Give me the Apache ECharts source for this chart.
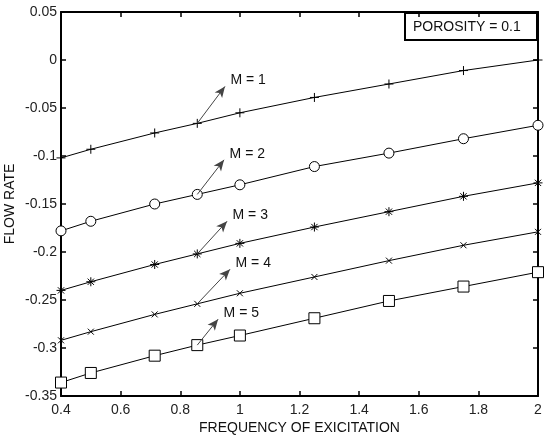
<!DOCTYPE html>
<html>
<head>
<meta charset="utf-8">
<script src="https://cdn.jsdelivr.net/npm/echarts@6/dist/echarts.min.js"></script>
<style>
  html, body { margin: 0; padding: 0; background: #fff; }
</style>
</head>
<body>
<div id="chart" style="width: 547px; height: 435px"></div>
<script>
// frequency of excitation (x)
const freq = [0.4, 0.5, 0.7143, 0.8571, 1, 1.25, 1.5, 1.75, 2];
// flow rate for each M
const m1 = [-0.102, -0.093, -0.076, -0.066, -0.055, -0.039, -0.025, -0.011, 0.0];
const m2 = [-0.178, -0.168, -0.150, -0.140, -0.130, -0.111, -0.097, -0.082, -0.068];
const m3 = [-0.240, -0.231, -0.213, -0.202, -0.191, -0.174, -0.158, -0.142, -0.128];
const m4 = [-0.292, -0.283, -0.265, -0.254, -0.243, -0.226, -0.209, -0.193, -0.179];
const m5 = [-0.336, -0.326, -0.308, -0.297, -0.287, -0.269, -0.251, -0.236, -0.221];
const seriesNames = ["M = 1", "M = 2", "M = 3", "M = 4", "M = 5"];
// where each annotation arrow points to
const arrowTips = [[0.950, -0.0275], [0.947, -0.104], [0.957, -0.168], [0.967, -0.218], [0.927, -0.270]];
const arrowFrom = 3; // arrows start at the 4th point

const font = "Liberation Sans, Arial, sans-serif";

const markers = [
  { symbol: "path://M0,5L10,5M5,0L5,10", size: 9, fill: "none" },
  { symbol: "circle", size: 10, fill: "#fff" },
  { symbol: "path://M0,5L10,5M5,0L5,10M1.5,1.5L8.5,8.5M8.5,1.5L1.5,8.5", size: 9, fill: "none" },
  { symbol: "path://M0,0L10,10M10,0L0,10", size: 6, fill: "none" },
  { symbol: "rect", size: 11, fill: "#fff" }
];

const chart = echarts.init(document.getElementById("chart"));

const makeSeries = (vals, i) => {
  const pts = freq.map((x, j) => [x, vals[j]]);
  return {
    type: "line",
    name: seriesNames[i],
    data: pts,
    symbol: markers[i].symbol,
    symbolSize: markers[i].size,
    symbolKeepAspect: true,
    showAllSymbol: true,
    lineStyle: { color: "#000", width: 1 },
    itemStyle: { color: markers[i].fill, borderColor: "#000", borderWidth: 1 },
    z: 3,
    markLine: {
      silent: true,
      animation: false,
      symbol: ["none", "arrow"],
      symbolSize: [7, 11],
      lineStyle: { color: "#444", width: 1, type: "solid" },
      label: { show: false },
      data: [[
        { coord: pts[arrowFrom] },
        { coord: arrowTips[i] }
      ]]
    },
    markPoint: {
      silent: true,
      animation: false,
      symbol: "circle",
      symbolSize: 1,
      itemStyle: { color: "none" },
      label: {
        show: true,
        position: "right",
        distance: 5,
        offset: [0, -6],
        color: "#111",
        fontFamily: font,
        fontSize: 14,
        formatter: seriesNames[i]
      },
      data: [{ coord: arrowTips[i] }]
    }
  };
};

const option = {
  animation: false,
  grid: { left: 61, right: 9, top: 12, bottom: 39, outerBoundsMode: "none", containLabel: false },
  xAxis: [
    {
      type: "value",
      min: 0.4,
      max: 2,
      interval: 0.2,
      name: "FREQUENCY OF EXICITATION",
      nameLocation: "middle",
      nameGap: 25,
      nameMoveOverlap: false,
      nameTextStyle: { color: "#111", fontFamily: font, fontSize: 14 },
      axisLine: { onZero: false, lineStyle: { color: "#000", width: 2 } },
      axisTick: { inside: true, length: 5, lineStyle: { color: "#000", width: 1.5 } },
      axisLabel: { color: "#222", fontFamily: font, fontSize: 14, margin: 7 },
      splitLine: { show: false }
    },
    {
      type: "value",
      position: "top",
      min: 0.4,
      max: 2,
      interval: 0.2,
      axisLine: { onZero: false, lineStyle: { color: "#000", width: 2 } },
      axisTick: { inside: true, length: 5, lineStyle: { color: "#000", width: 1.5 } },
      axisLabel: { show: false },
      splitLine: { show: false }
    }
  ],
  yAxis: [
    {
      type: "value",
      min: -0.35,
      max: 0.05,
      interval: 0.05,
      name: "FLOW RATE",
      nameLocation: "middle",
      nameRotate: 90,
      nameGap: 44,
      nameMoveOverlap: false,
      nameTextStyle: { color: "#111", fontFamily: font, fontSize: 14 },
      axisLine: { onZero: false, lineStyle: { color: "#000", width: 2 } },
      axisTick: { inside: true, length: 5, lineStyle: { color: "#000", width: 1.5 } },
      axisLabel: { color: "#222", fontFamily: font, fontSize: 14, margin: 4 },
      splitLine: { show: false }
    },
    {
      type: "value",
      position: "right",
      min: -0.35,
      max: 0.05,
      interval: 0.05,
      axisLine: { onZero: false, lineStyle: { color: "#000", width: 2 } },
      axisTick: { inside: true, length: 5, lineStyle: { color: "#000", width: 1.5 } },
      axisLabel: { show: false },
      splitLine: { show: false }
    }
  ],
  graphic: [
    {
      type: "group",
      right: 9,
      top: 12,
      z: 10,
      children: [
        {
          type: "rect",
          shape: { x: 0, y: 0, width: 132, height: 27 },
          style: { fill: "#fff", stroke: "#000", lineWidth: 2 }
        },
        {
          type: "text",
          x: 8,
          y: 14,
          style: {
            text: "POROSITY = 0.1",
            fill: "#111",
            font: "14px " + font,
            verticalAlign: "middle"
          }
        }
      ]
    }
  ],
  series: [m1, m2, m3, m4, m5].map(makeSeries)
};

chart.setOption(option);
</script>
</body>
</html>
